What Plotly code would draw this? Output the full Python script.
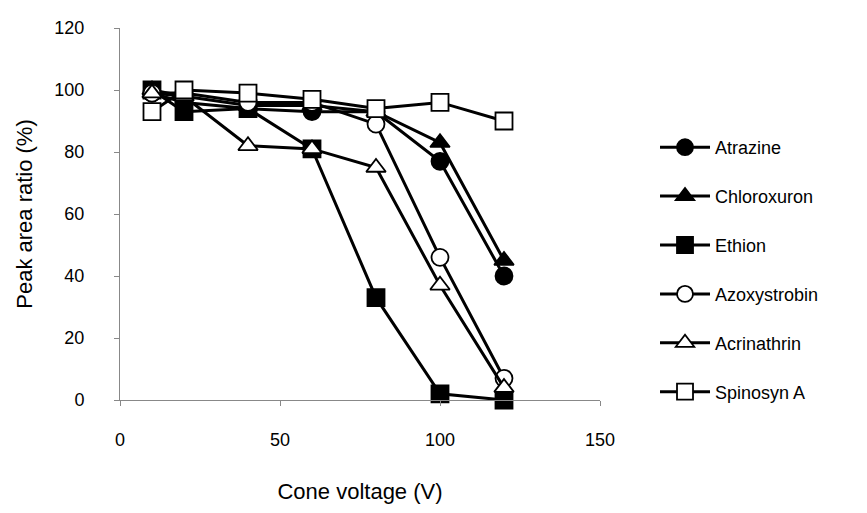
import plotly.graph_objects as go

voltage = [10, 20, 40, 60, 80, 100, 120]
atrazine = [99, 96, 94, 93, 93, 77, 40]
chloroxuron = [100, 98, 95, 95, 93, 83, 45]
ethion = [100, 93, 94, 81, 33, 2, 0]
azoxystrobin = [99, 99, 96, 96, 89, 46, 7]
acrinathrin = [99, 98, 82, 81, 75, 37, 4]
spinosyn_a = [93, 100, 99, 97, 94, 96, 90]

series = [
    ("Atrazine", atrazine, "circle", "black"),
    ("Chloroxuron", chloroxuron, "triangle-up", "black"),
    ("Ethion", ethion, "square", "black"),
    ("Azoxystrobin", azoxystrobin, "circle", "white"),
    ("Acrinathrin", acrinathrin, "triangle-up", "white"),
    ("Spinosyn A", spinosyn_a, "square", "white"),
]

fig = go.Figure()
for i, (name, vals, sym, fill) in enumerate(series):
    fig.add_trace(go.Scatter(
        x=voltage, y=vals, name=name, mode="lines+markers",
        line=dict(color="black", width=3),
        marker=dict(symbol=sym, size=17, color=fill,
                    line=dict(color="black", width=1.8)),
        legendgroup=f"g{i}", cliponaxis=False,
    ))

font = dict(family="Liberation Sans, Arial, sans-serif", size=18, color="black")
fig.update_layout(
    width=867, height=513,
    margin=dict(l=112, r=275, t=20, b=121),
    paper_bgcolor="white", plot_bgcolor="white",
    font=font,
    showlegend=True,
    legend=dict(x=1.1146, y=0.7285, xanchor="left", yanchor="top",
                tracegroupgap=22.5, itemwidth=50, font=font,
                bgcolor="rgba(0,0,0,0)"),
    xaxis=dict(range=[0, 150], tickvals=[0, 50, 100, 150], showgrid=False,
               zeroline=False, showline=True, linecolor="#888", linewidth=1,
               ticks="outside", ticklen=5, tickcolor="#888", automargin=False,
               ticklabelstandoff=18,
               title=dict(text="Cone voltage (V)", standoff=35), tickfont=font),
    yaxis=dict(range=[0, 120], tickvals=[0, 20, 40, 60, 80, 100, 120], showgrid=False,
               zeroline=False, showline=True, linecolor="#888", linewidth=1,
               ticks="outside", ticklen=5, tickcolor="#888", automargin=False,
               ticklabelstandoff=26,
               title=dict(text="Peak area ratio (%)", standoff=15), tickfont=font),
)
fig.write_html("out.html")
